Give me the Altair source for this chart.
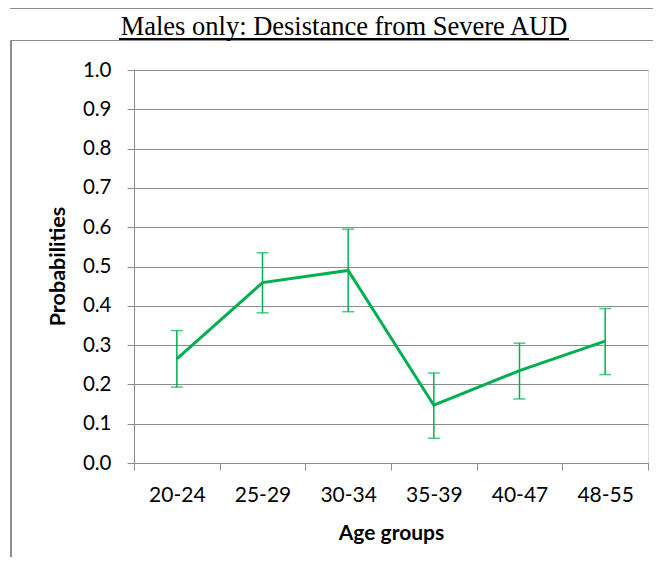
import altair as alt
import pandas as pd

ages = ["20-24", "25-29", "30-34", "35-39", "40-47", "48-55"]
prob = [0.265, 0.459, 0.490, 0.147, 0.235, 0.310]
lower = [0.193, 0.382, 0.385, 0.063, 0.163, 0.225]
upper = [0.337, 0.535, 0.595, 0.229, 0.305, 0.393]

title_text = "Males only: Desistance from Severe AUD"
y_ticks = [round(i / 10, 1) for i in range(11)]

df = pd.DataFrame({"age": ages, "prob": prob, "lo": lower, "hi": upper})

GREEN = "#00B050"
GREY = "#8c8c8c"
FONT = "Lato"

x_axis = alt.Axis(
    title="Age groups",
    labelAngle=0,
    tickBand="extent",
    tickSize=7,
    tickColor=GREY,
    domainColor=GREY,
    labelFont=FONT,
    labelFontSize=21,
    labelColor="#000000",
    labelPadding=14,
    titleFont=FONT,
    titleFontSize=21,
    titleFontWeight="bold",
    titleColor="#000000",
    titlePadding=17,
    grid=False,
)
x_scale = alt.Scale(type="band", paddingInner=0, paddingOuter=0)

y_axis = alt.Axis(
    title="Probabilities",
    values=y_ticks,
    format=".1f",
    tickSize=7,
    tickColor=GREY,
    domainColor=GREY,
    gridColor=GREY,
    gridWidth=1,
    labelFont=FONT,
    labelFontSize=20.5,
    labelColor="#000000",
    labelPadding=16,
    labelOverlap=False,
    titleFont=FONT,
    titleFontSize=21.5,
    titleFontWeight="bold",
    titleColor="#000000",
    titleX=-76,
    titleY=196,
    titleAngle=270,
    titleAlign="center",
    titleBaseline="middle",
)
y_scale = alt.Scale(domain=[0, 1], nice=False, zero=True)


def xe():
    return alt.X("age:N", sort=ages, scale=x_scale, axis=x_axis)


def ye(field):
    return alt.Y(field, type="quantitative", scale=y_scale, axis=y_axis)


base = alt.Chart(df)

line = base.mark_line(color=GREEN, strokeWidth=3).encode(x=xe(), y=ye("prob"))

rule = base.mark_rule(color=GREEN, strokeWidth=1.5).encode(
    x=xe(), y=ye("lo"), y2="hi:Q"
)
cap_lo = base.mark_tick(color=GREEN, size=12, thickness=1.5).encode(x=xe(), y=ye("lo"))
cap_hi = base.mark_tick(color=GREEN, size=12, thickness=1.5).encode(x=xe(), y=ye("hi"))

# decorative frame (Excel chart area borders), title and its underline
frame_top0 = alt.Chart(df).mark_rule(color=GREY, strokeWidth=1, clip=False).encode(
    x=alt.value(-124), x2=alt.value(540), y=alt.value(-61.5)
)
frame_top = alt.Chart(df).mark_rule(color=GREY, strokeWidth=1, clip=False).encode(
    x=alt.value(-123), x2=alt.value(540), y=alt.value(-29.5)
)
frame_left = alt.Chart(df).mark_rule(color=GREY, strokeWidth=1, clip=False).encode(
    x=alt.value(-123), y=alt.value(-29.5), y2=alt.value(530)
)
title = alt.Chart(pd.DataFrame({"t": [title_text]})).mark_text(
    font="Liberation Serif",
    fontSize=26.5,
    color="#000000",
    align="center",
    baseline="alphabetic",
    clip=False,
).encode(text="t:N", x=alt.value(210), y=alt.value(-35))
underline = alt.Chart(df).mark_rule(color="#000000", strokeWidth=2, clip=False).encode(
    x=alt.value(-15), x2=alt.value(435), y=alt.value(-31)
)

chart = (
    alt.layer(frame_top0, frame_top, frame_left, rule, cap_lo, cap_hi, line, title, underline)
    .properties(
        width=514,
        height=393,
        autosize=alt.AutoSizeParams(type="none"),
        padding={"left": 126, "top": 62, "right": 5, "bottom": 94},
    )
    .configure_view(stroke=None)
    .configure(background="white")
)

chart.save("out.html", embed_options={"renderer": "svg", "actions": False})
